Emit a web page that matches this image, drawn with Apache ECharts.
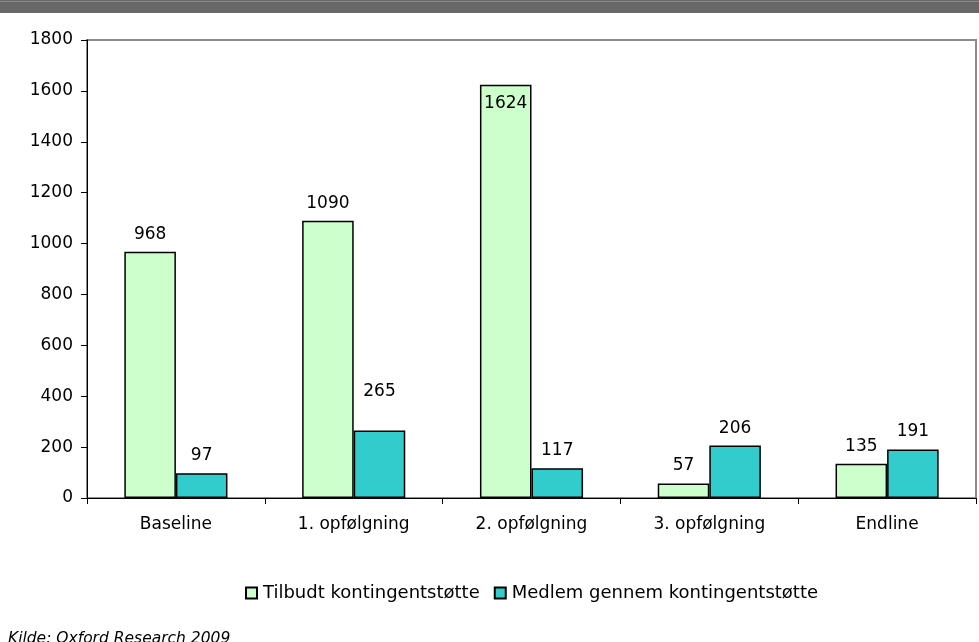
<!DOCTYPE html>
<html>
<head>
<meta charset="utf-8">
<script src="https://cdn.jsdelivr.net/npm/echarts@6/dist/echarts.min.js"></script>
<style>
  html, body { margin: 0; padding: 0; background: #fff; }
  #chart { width: 979px; height: 642px; }
</style>
</head>
<body>
<div id="chart"></div>
<script>
// Kontingentstøtte per måling
const categories = ['Baseline', '1. opfølgning', '2. opfølgning', '3. opfølgning', 'Endline'];
const seriesNames = ['Tilbudt kontingentstøtte', 'Medlem gennem kontingentstøtte'];
const tilbudt = [968, 1090, 1624, 57, 135];
const medlem = [97, 265, 117, 206, 191];
const yTicks = [0, 200, 400, 600, 800, 1000, 1200, 1400, 1600, 1800];

const FONT = 'DejaVu Sans';

const chart = echarts.init(document.getElementById('chart'), null, { renderer: 'canvas' });

const baseLabel = {
  show: true,
  position: 'top',
  distance: 9,
  color: '#000',
  fontFamily: FONT,
  fontSize: 17
};

// The tallest bar carries its label inside the top edge
const tilbudtData = tilbudt.map(v => v === Math.max(...tilbudt)
  ? { value: v, label: { position: 'insideTop', distance: 10 } }
  : v);
const medlemData = medlem.map((v, i) => i === 1
  ? { value: v, label: { distance: 30 } }
  : v);

chart.setOption({
  animation: false,
  backgroundColor: '#fff',
  textStyle: { fontFamily: FONT },
  grid: {
    left: 87, right: 3, top: 40, bottom: 144,
    show: true, borderColor: '#8c8c8c', borderWidth: 2, backgroundColor: 'transparent'
  },
  legend: {
    bottom: 35,
    left: 240,
    itemWidth: 11,
    itemHeight: 11,
    itemGap: 14,
    icon: 'rect',
    textStyle: { fontFamily: FONT, fontSize: 18, color: '#000', padding: [0, 0, 0, 1] },
    data: seriesNames
  },
  xAxis: {
    type: 'category',
    data: categories,
    axisLine: { lineStyle: { color: '#000', width: 1 } },
    axisTick: { show: true, length: 6, lineStyle: { color: '#000' } },
    axisLabel: { color: '#000', fontFamily: FONT, fontSize: 17, margin: 18 }
  },
  yAxis: {
    type: 'value',
    min: 0,
    max: yTicks[yTicks.length - 1],
    interval: yTicks[1] - yTicks[0],
    axisLine: { show: true, lineStyle: { color: '#000', width: 1 } },
    axisTick: { show: true, length: 6, lineStyle: { color: '#000' } },
    splitLine: { show: false },
    axisLabel: {
      color: '#000', fontFamily: FONT, fontSize: 17, margin: 14,
      formatter: v => String(v)
    }
  },
  series: [
    {
      name: seriesNames[0],
      type: 'bar',
      data: tilbudtData,
      barGap: '0%',
      barCategoryGap: '42%',
      itemStyle: { color: '#ccffcc', borderColor: '#000', borderWidth: 1.5 },
      label: baseLabel
    },
    {
      name: seriesNames[1],
      type: 'bar',
      data: medlemData,
      itemStyle: { color: '#33cccc', borderColor: '#000', borderWidth: 1.5 },
      label: baseLabel
    }
  ],
  graphic: [
    {
      type: 'rect',
      left: 0, top: 0,
      shape: { width: 979, height: 13 },
      style: { fill: '#686868' },
      silent: true
    },
    {
      type: 'rect',
      left: 0, top: 1,
      shape: { width: 979, height: 1 },
      style: { fill: '#8a8a8a' },
      silent: true
    },
    {
      type: 'text',
      left: 8, top: 631,
      style: {
        text: 'Kilde: Oxford Research 2009',
        fontFamily: FONT,
        fontSize: 15.5,
        fontStyle: 'italic',
        fill: '#000'
      }
    }
  ]
});
</script>
</body>
</html>
